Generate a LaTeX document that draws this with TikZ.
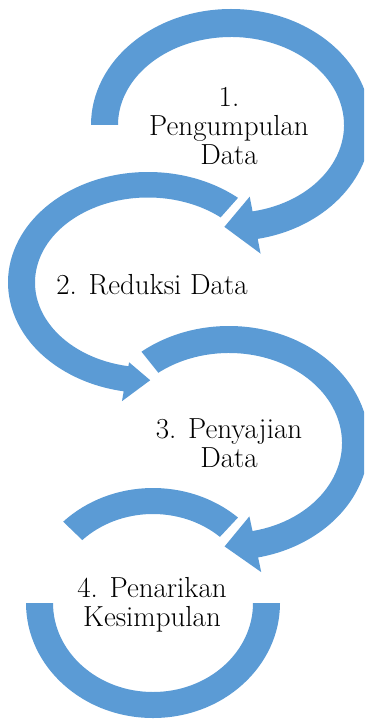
\documentclass[tikz,border=0pt]{standalone}
\usepackage{tikz}
\usetikzlibrary{calc}
\definecolor{cycleblue}{RGB}{91,155,213}

\begin{document}
\begin{tikzpicture}[x=1pt,y=1pt,
  band/.style={fill=cycleblue,draw=none},
  lbl/.style={font=\fontsize{29}{29}\selectfont,align=center,inner sep=0pt}]
  \useasboundingbox (0,0) rectangle (364,-719);
  \clip (0,0) rectangle (364,-719);

  % centres of the four rings
  \coordinate (c1) at (231,-125);
  \coordinate (c2) at (148,-282.5);
  \coordinate (c3) at (229,-443);
  \coordinate (c4) at (153,-603);

  % Arrow 1 (over the top, head pointing left)
  \fill[band] ($(c1)+(180:140 and 116)$)
    arc[start angle=180,end angle=-79,x radius=140,y radius=116]
    -- ($(c1)+(-79:155 and 131)$) -- ($(c1)+(-93:126.5 and 102)$)
    -- ($(c1)+(-79:98 and 73)$) -- ($(c1)+(-79:113 and 88)$)
    arc[start angle=-79,end angle=180,x radius=113,y radius=88] -- cycle;

  % Arrow 2 (round the left, head pointing right)
  \fill[band] ($(c2)+(50:140 and 110.5)$)
    arc[start angle=50,end angle=260,x radius=140,y radius=110.5]
    -- ($(c2)+(260:150 and 120.5)$) -- ($(c2)+(271:126.5 and 97.75)$)
    -- ($(c2)+(260:109 and 81)$) -- ($(c2)+(260:113 and 85)$)
    arc[start angle=260,end angle=50,x radius=113,y radius=85] -- cycle;

  % Arrow 3 (round the right, head pointing left)
  \fill[band] ($(c3)+(128.7:140 and 117)$)
    arc[start angle=128.7,end angle=-78,x radius=140,y radius=117]
    -- ($(c3)+(-78:155 and 132)$) -- ($(c3)+(-92:126.5 and 103.5)$)
    -- ($(c3)+(-78:98 and 75)$) -- ($(c3)+(-78:113 and 90)$)
    arc[start angle=-78,end angle=128.7,x radius=113,y radius=90] -- cycle;

  % Ring 4 (no head, top piece and bottom half)
  \fill[band] ($(c4)+(48:127 and 115)$)
    arc[start angle=48,end angle=135,x radius=127,y radius=115]
    -- ($(c4)+(135:100 and 89)$)
    arc[start angle=135,end angle=48,x radius=100,y radius=89] -- cycle;
  \fill[band] ($(c4)+(180:127 and 115)$)
    arc[start angle=180,end angle=360,x radius=127,y radius=115]
    -- ($(c4)+(0:100 and 89)$)
    arc[start angle=360,end angle=180,x radius=100,y radius=89] -- cycle;

  % Step labels
  \node[lbl] (t1) at (229,-126) {1.\\Pengumpulan\\Data};
  \node[lbl] (t2) at (152,-285) {2. Reduksi Data};
  \node[lbl] (t3) at (229,-443) {3. Penyajian\\Data};
  \node[lbl] (t4) at (152,-605) {4. Penarikan\\Kesimpulan};

\end{tikzpicture}
\end{document}
